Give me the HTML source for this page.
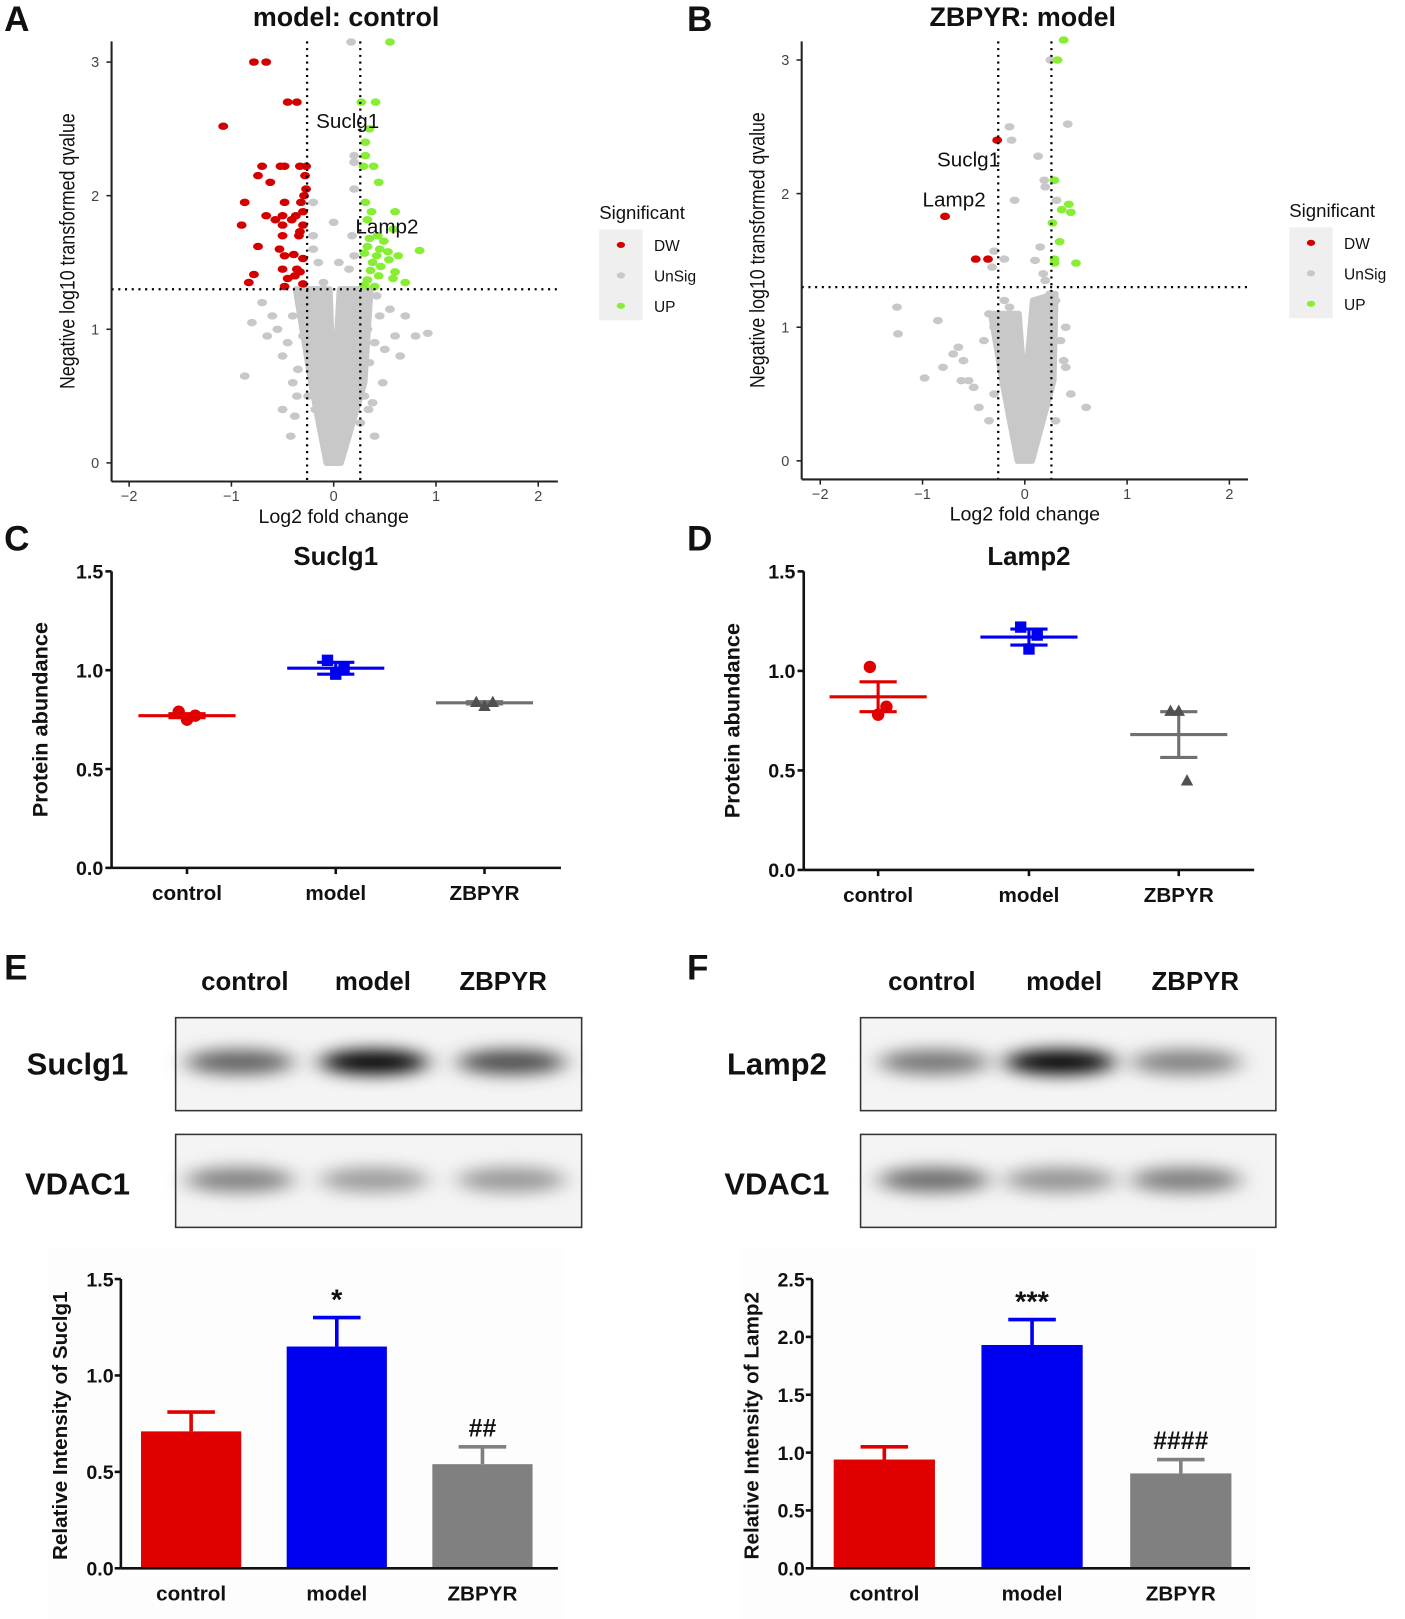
<!DOCTYPE html>
<html><head><meta charset="utf-8"><style>
html,body{margin:0;padding:0;background:#fff;}
svg{display:block;font-family:"Liberation Sans",Arial,sans-serif;}
</style></head><body>
<svg id="fig" width="1405" height="1619" viewBox="0 0 1360 1567" xmlns="http://www.w3.org/2000/svg">
<defs>
<filter id="blur" x="-50%" y="-100%" width="200%" height="300%"><feGaussianBlur stdDeviation="11 8"/></filter>
</defs>
<g id="root"></g>
</svg>
<script>
// ---------- data ----------
const volcAGray = [[0.3,0.5],[-0.35,0.7],[-0.4,0.6],[-0.45,0.9],[-0.5,0.8],[-0.55,1.0],[-0.6,1.1],[-0.65,0.95],[-0.7,1.2],[-0.8,1.05],[-0.87,0.65],[-0.5,0.4],[-0.38,0.35],[-0.3,0.95],[-0.33,1.2],[-0.4,1.1],[0.35,0.75],[0.4,0.9],[0.45,1.1],[0.5,0.85],[0.55,1.15],[0.6,0.95],[0.7,1.1],[0.8,0.95],[0.92,0.97],[0.65,0.8],[0.38,0.45],[0.3,1.2],[0.33,1.0],[0.42,1.25],[0.48,0.6],[0.05,1.5],[-0.2,1.6],[0.0,1.8],[0.15,1.45],[-0.1,1.35],[0.2,1.55],[-0.2,1.95],[0.2,2.25],[0.2,2.3],[0.17,3.15],[0.2,2.05],[-0.3,1.1],[-0.25,0.5],[0.27,0.6],[0.26,0.3],[-0.2,1.7],[-0.15,1.5],[0.18,1.7],[-0.25,1.25],[-0.42,0.2],[-0.36,0.5],[0.34,0.4],[0.4,0.2],[-0.1,0.2],[0.1,0.2],[-0.18,0.4],[0.2,0.8],[-0.22,0.9],[0.25,1.0],[0.1,1.1],[-0.12,1.0],[0.15,1.25],[0.28,1.3],[0.3,1.28]];
const volcARed = [[-0.78,3.0],[-0.66,3.0],[-0.45,2.7],[-0.36,2.7],[-1.08,2.52],[-0.7,2.22],[-0.52,2.22],[-0.48,2.22],[-0.33,2.22],[-0.27,2.22],[-0.74,2.15],[-0.28,2.15],[-0.62,2.1],[-0.27,2.05],[-0.29,2.0],[-0.87,1.95],[-0.48,1.95],[-0.32,1.95],[-0.66,1.85],[-0.5,1.85],[-0.37,1.85],[-0.3,1.88],[-0.57,1.82],[-0.41,1.82],[-0.9,1.78],[-0.5,1.78],[-0.3,1.78],[-0.33,1.73],[-0.5,1.7],[-0.34,1.7],[-0.74,1.62],[-0.53,1.6],[-0.48,1.55],[-0.39,1.56],[-0.3,1.53],[-0.5,1.45],[-0.36,1.45],[-0.33,1.43],[-0.78,1.41],[-0.38,1.4],[-0.45,1.38],[-0.83,1.35],[-0.48,1.32],[-0.3,1.34]];
const volcAGreen = [[0.55,3.15],[0.27,2.7],[0.41,2.7],[0.35,2.5],[0.31,2.4],[0.31,2.3],[0.29,2.22],[0.39,2.22],[0.44,2.1],[0.31,1.95],[0.37,1.88],[0.6,1.88],[0.33,1.82],[0.58,1.75],[0.35,1.68],[0.43,1.7],[0.49,1.66],[0.33,1.62],[0.45,1.6],[0.53,1.58],[0.84,1.59],[0.3,1.57],[0.42,1.55],[0.63,1.55],[0.54,1.52],[0.38,1.5],[0.46,1.47],[0.36,1.44],[0.6,1.43],[0.44,1.4],[0.58,1.38],[0.33,1.37],[0.7,1.35],[0.3,1.33],[0.4,1.32]];
const volcBGray = [[-1.25,1.15],[-1.24,0.95],[-0.85,1.05],[-0.65,0.85],[-0.98,0.62],[-0.7,0.8],[-0.6,0.75],[-0.5,0.55],[-0.55,0.6],[-0.45,0.4],[-0.35,0.3],[-0.4,0.9],[-0.3,1.0],[-0.35,1.1],[0.35,0.9],[0.4,0.7],[0.45,0.5],[0.6,0.4],[0.4,1.0],[0.3,1.2],[-0.15,2.5],[-0.13,2.4],[0.13,2.28],[0.19,2.1],[0.2,2.05],[-0.1,1.95],[0.31,1.95],[0.42,2.52],[0.25,3.0],[0.15,1.6],[0.1,1.5],[-0.2,1.51],[-0.3,1.57],[-0.32,1.45],[0.18,1.4],[0.2,1.35],[0.3,0.3],[-0.8,0.7],[-0.62,0.6],[-0.2,1.2],[-0.15,1.15],[0.25,1.25],[-0.3,0.5],[0.25,0.6],[0.38,0.75]];
const volcBRed = [[-0.27,2.4],[-0.78,1.83],[-0.48,1.51],[-0.36,1.51]];
const volcBGreen = [[0.38,3.15],[0.32,3.0],[0.29,2.1],[0.43,1.92],[0.45,1.86],[0.36,1.88],[0.27,1.78],[0.34,1.64],[0.5,1.48],[0.29,1.51],[0.29,1.48]];
const volcCoreA = [[-0.07,0],[0.07,0],[0.3,0.6],[0.36,1.3],[0.06,1.3],[0.01,0.65],[-0.01,0.65],[-0.04,1.3],[-0.37,1.3],[-0.22,0.6]];
const volcCoreB = [[-0.07,0],[0.07,0],[0.28,0.6],[0.3,1.25],[0.08,1.2],[0.01,0.6],[-0.01,0.6],[-0.06,1.1],[-0.33,1.1],[-0.22,0.6]];
const xTicksV = [-2,-1,0,1,2];
const yTicksV = [0,1,2,3];

const groups = ['control','model','ZBPYR'];
const cMeans = [0.77,1.01,0.835];
const cSems = [0.01,0.03,0.006];
const cPts = [[0.79,0.75,0.77],[1.05,0.98,1.01],[0.84,0.82,0.84]];
const dMeans = [0.87,1.17,0.68];
const dSems = [0.075,0.04,0.115];
const dPts = [[1.02,0.78,0.82],[1.22,1.11,1.18],[0.8,0.8,0.45]];
const dotTicks = [0.0,0.5,1.0,1.5];
const eMeans = [0.71,1.15,0.54];
const eSems = [0.10,0.15,0.09];
const eTicks = [0.0,0.5,1.0,1.5];
const fMeans = [0.94,1.93,0.82];
const fSems = [0.11,0.22,0.12];
const fTicks = [0.0,0.5,1.0,1.5,2.0,2.5];
const eSig = ['','*','##'];
const fSig = ['','***','####'];
const colors = ['#e00000','#0000f0','#707070'];
const barColors = ['#e00000','#0000f0','#808080'];
// blot band intensities (0..1) for [target, VDAC1] per lane
const blotE = [[0.55,1.0,0.65],[0.4,0.28,0.3]];
const blotF = [[0.45,1.0,0.4],[0.5,0.32,0.42]];

// ---------- helpers ----------
const NS='http://www.w3.org/2000/svg';
const root=document.getElementById('root');
function el(tag,attrs,parent,text){const e=document.createElementNS(NS,tag);for(const k in attrs)e.setAttribute(k,attrs[k]);if(text!==undefined)e.textContent=text;(parent||root).appendChild(e);return e;}
function lin(d0,d1,r0,r1){return v=>r0+(v-d0)*(r1-r0)/(d1-d0);}

// ---------- volcano ----------
function volcano(o){
  const g=el('g',{});
  
  
  const X=lin(0,1,o.x0,o.x1), Y=lin(0,3,o.y0,o.y3);
  const core=el('polygon',{points:o.core.map(p=>X(p[0])+','+Y(p[1])).join(' '),fill:'#c8c8c8',stroke:'#c8c8c8','stroke-width':6,'stroke-linejoin':'round'},g);
  
  
  const draw=(arr,fill,nm)=>arr.forEach(p=>{const c=el('ellipse',{cx:X(p[0]),cy:Y(p[1]),rx:4.8,ry:3.6,fill:fill},g);
    
    });
  draw(o.gray,'#c8c8c8','unsig-point');
  draw(o.red,'#d40000','dw-point');
  draw(o.green,'#88ee33','up-point');
  [-0.26,0.26].forEach(v=>{const l=el('line',{x1:X(v),x2:X(v),y1:o.top,y2:o.bottom,stroke:'#000','stroke-width':2.2,'stroke-dasharray':'2 4.5'},g);
    
    });
  const h=el('line',{x1:o.left,x2:o.right,y1:Y(1.3),y2:Y(1.3),stroke:'#000','stroke-width':2.2,'stroke-dasharray':'2 4.5'},g);
  
  
  const ya=el('line',{x1:o.left,x2:o.left,y1:o.top,y2:o.bottom,stroke:'#222','stroke-width':2},g);
  
  
  const xa=el('line',{x1:o.left,x2:o.right,y1:o.bottom,y2:o.bottom,stroke:'#222','stroke-width':2},g);
  
  
  yTicksV.forEach(v=>{el('line',{x1:o.left-5,x2:o.left,y1:Y(v),y2:Y(v),stroke:'#222','stroke-width':1.5},g);
    const t=el('text',{x:o.left-12,y:Y(v)+5,'text-anchor':'end','font-size':14,fill:'#444'},g,String(v));
    
    });
  xTicksV.forEach(v=>{el('line',{x1:X(v),x2:X(v),y1:o.bottom,y2:o.bottom+5,stroke:'#222','stroke-width':1.5},g);
    const t=el('text',{x:X(v),y:o.bottom+19,'text-anchor':'middle','font-size':14,fill:'#444'},g,v<0?'\u2212'+(-v):String(v));
    
    });
  const xt=el('text',{x:X(0),y:o.bottom+40,'text-anchor':'middle','font-size':19,fill:'#111'},g,'Log2 fold change');
  
  
  const yt=el('text',{transform:`translate(${o.left-36},${(o.top+o.bottom)/2-10}) rotate(-90) scale(0.82,1)`,'text-anchor':'middle','font-size':21,fill:'#111'},g,'Negative log10 transformed qvalue');
  
  
  const tt=el('text',{x:o.titleX,y:25,'text-anchor':'middle','font-size':26,'font-weight':'bold',fill:'#111'},g,o.title);
  
  
  o.labels.forEach(l=>{const t=el('text',{x:l[1],y:l[2],'font-size':20,fill:'#111'},g,l[0]);
    
    });
  const lg=el('g',{},g);
  
  
  el('text',{x:o.legX,y:o.legY,'font-size':18,fill:'#111'},lg,'Significant');
  el('rect',{x:o.legX,y:o.legY+10,width:42,height:88,fill:'#efefef'},lg);
  [['DW','#d40000'],['UnSig','#c8c8c8'],['UP','#88ee33']].forEach((d,i)=>{
    el('ellipse',{cx:o.legX+21,cy:o.legY+25+i*29.5,rx:4,ry:3,fill:d[1]},lg);
    const t=el('text',{x:o.legX+53,y:o.legY+31+i*29.5,'font-size':15,fill:'#111'},lg,d[0]);
    
    });
}
volcano({name:'volcano-model-control',x0:323,x1:422,y0:448,y3:60,left:108,right:540,top:40,bottom:466,core:volcCoreA,gray:volcAGray,red:volcARed,green:volcAGreen,title:'model: control',titleX:335,labels:[['Suclg1',306,124],['Lamp2',344,226]],legX:580,legY:212});
volcano({name:'volcano-zbpyr-model',x0:992,x1:1091,y0:446,y3:58,left:776,right:1208,top:40,bottom:464,core:volcCoreB,gray:volcBGray,red:volcBRed,green:volcBGreen,title:'ZBPYR: model',titleX:990,labels:[['Suclg1',907,161],['Lamp2',893,200]],legX:1248,legY:210});

[['A',4,30],['B',665,30],['C',4,533],['D',665,533],['E',4,948],['F',665,948]].forEach(p=>{
  const t=el('text',{x:p[1],y:p[2],'font-size':34,'font-weight':'bold',fill:'#111'},root,p[0]);
  
  });

// ---------- dot plots ----------
function dotPlot(o){
  const g=el('g',{});
  
  
  const Y=lin(0,1.5,o.y0,o.y15);
  const ya=el('line',{x1:o.left,x2:o.left,y1:o.y15,y2:o.y0,stroke:'#111','stroke-width':2.5},g);
  
  
  const xa=el('line',{x1:o.left,x2:o.right,y1:o.y0,y2:o.y0,stroke:'#111','stroke-width':2.5},g);
  
  
  dotTicks.forEach(v=>{el('line',{x1:o.left-6,x2:o.left,y1:Y(v),y2:Y(v),stroke:'#111','stroke-width':2.5},g);
    const t=el('text',{x:o.left-8,y:Y(v)+7,'text-anchor':'end','font-size':19,'font-weight':'bold',fill:'#111'},g,v.toFixed(1));
    
    });
  groups.forEach((gname,i)=>{
    const cx=o.xs[i], c=colors[i];
    el('line',{x1:cx,x2:cx,y1:o.y0,y2:o.y0+6,stroke:'#111','stroke-width':2.5},g);
    const t=el('text',{x:cx,y:o.y0+31,'text-anchor':'middle','font-size':20,'font-weight':'bold',fill:'#111'},g,gname);
    
    
    const m=el('line',{x1:cx-47,x2:cx+47,y1:Y(o.means[i]),y2:Y(o.means[i]),stroke:c,'stroke-width':3},g);
    
    
    const s=el('path',{d:`M${cx-18},${Y(o.means[i]+o.sems[i])}H${cx+18}M${cx},${Y(o.means[i]+o.sems[i])}V${Y(o.means[i]-o.sems[i])}M${cx-18},${Y(o.means[i]-o.sems[i])}H${cx+18}`,stroke:c,'stroke-width':3,fill:'none'},g);
    
    
    o.pts[i].forEach((v,j)=>{const px=cx+(j-1)*8;let mk;
      if(i===0) mk=el('circle',{cx:px,cy:Y(v),r:6,fill:c},g);
      else if(i===1) mk=el('rect',{x:px-5.5,y:Y(v)-5.5,width:11,height:11,fill:c},g);
      else mk=el('polygon',{points:`${px},${Y(v)-6} ${px+6},${Y(v)+5} ${px-6},${Y(v)+5}`,fill:'#505050'},g);
      
      });
  });
  const tt=el('text',{x:o.titleX,y:547,'text-anchor':'middle','font-size':25,'font-weight':'bold',fill:'#111'},g,o.title);
  
  
  const yt=el('text',{transform:`translate(${o.left-62},${(o.y0+o.y15)/2}) rotate(-90)`,'text-anchor':'middle','font-size':21,'font-weight':'bold',fill:'#111'},g,'Protein abundance');
  
  
}
dotPlot({name:'dotplot-suclg1',left:108,right:543,y0:840,y15:553,xs:[181,325,469],means:cMeans,sems:cSems,pts:cPts,title:'Suclg1',titleX:325});
dotPlot({name:'dotplot-lamp2',left:778,right:1214,y0:842,y15:553,xs:[850,996,1141],means:dMeans,sems:dSems,pts:dPts,title:'Lamp2',titleX:996});

// ---------- western blots ----------
function blot(o){
  const g=el('g',{});
  
  
  groups.forEach((gn,i)=>{const t=el('text',{x:o.laneLabels[i],y:958,'text-anchor':'middle','font-size':25,'font-weight':'bold',fill:'#111'},g,gn);
    
    });
  [[985,o.target],[1098,'VDAC1']].forEach((r,ri)=>{
    const bx=el('rect',{x:o.x,y:r[0],width:o.w,height:90,fill:'#f4f4f4',stroke:'#333','stroke-width':1.5},g);
    
    
    o.bands[ri].forEach((v,i)=>{const b=el('ellipse',{cx:o.laneX[i],cy:r[0]+(ri===0?43:44),rx:o.w/7.5,ry:12,fill:`rgb(${Math.round(215-215*v)},${Math.round(215-215*v)},${Math.round(215-215*v)})`,filter:'url(#blur)'},g);
      
      });
    const lb=el('text',{x:o.rowLabelX,y:r[0]+ (ri===0?55:58),'text-anchor':'middle','font-size':30,'font-weight':'bold',fill:'#111'},g,r[1]);
    
    
  });
}
blot({name:'western-blot-suclg1',x:170,w:393,laneLabels:[237,361,487],laneX:[232,362,495],rowLabelX:75,target:'Suclg1',bands:blotE});
blot({name:'western-blot-lamp2',x:833,w:402,laneLabels:[902,1030,1157],laneX:[904,1026,1148],rowLabelX:752,target:'Lamp2',bands:blotF});

// ---------- bar charts ----------
function barChart(o){
  const g=el('g',{});
  
  
  const Y=lin(0,o.max,o.y0,o.yTop);
  el('rect',{x:o.left-70,y:o.yTop-30,width:o.right-o.left+75,height:o.y0-o.yTop+80,fill:'#fdfdfd'},g);
  groups.forEach((gn,i)=>{
    const cx=o.xs[i], top=Y(o.means[i]), et=Y(o.means[i]+o.sems[i]);
    const e=el('path',{d:`M${cx},${top}V${et}M${cx-23},${et}H${cx+23}`,stroke:barColors[i],'stroke-width':3.5,fill:'none'},g);
    
    
    const b=el('rect',{x:cx-o.bw/2,y:top,width:o.bw,height:o.y0-top,fill:barColors[i]},g);
    
    
    if(o.sig[i]){const s=el('text',{x:cx,y:et-(o.sig[i][0]==='*'?8:10),'text-anchor':'middle','font-size':o.sig[i][0]==='*'?28:24,'font-weight':'bold',fill:'#111'},g,o.sig[i]);
      
      }
    const t=el('text',{x:cx,y:o.y0+31,'text-anchor':'middle','font-size':20,'font-weight':'bold',fill:'#111'},g,gn);
    
    
  });
  const ya=el('line',{x1:o.left,x2:o.left,y1:o.yTop,y2:o.y0,stroke:'#111','stroke-width':2.5},g);
  
  
  const xa=el('line',{x1:o.left,x2:o.right,y1:o.y0,y2:o.y0,stroke:'#111','stroke-width':2.5},g);
  
  
  o.ticks.forEach(v=>{el('line',{x1:o.left-6,x2:o.left,y1:Y(v),y2:Y(v),stroke:'#111','stroke-width':2.5},g);
    const t=el('text',{x:o.left-7,y:Y(v)+7,'text-anchor':'end','font-size':19,'font-weight':'bold',fill:'#111'},g,v.toFixed(1));
    
    });
  const yt=el('text',{transform:`translate(${o.left-52},${(o.y0+o.yTop)/2+2}) rotate(-90)`,'text-anchor':'middle','font-size':20,'font-weight':'bold',fill:'#111'},g,o.ytitle);
  
  
}
barChart({name:'bar-chart-suclg1',left:117,right:540,y0:1518,yTop:1238,max:1.5,xs:[185,326,467],bw:97,means:eMeans,sems:eSems,sig:eSig,ticks:eTicks,ytitle:'Relative Intensity of Suclg1'});
barChart({name:'bar-chart-lamp2',left:786,right:1210,y0:1518,yTop:1238,max:2.5,xs:[856,999,1143],bw:98,means:fMeans,sems:fSems,sig:fSig,ticks:fTicks,ytitle:'Relative Intensity of Lamp2'});
</script>
</body></html>
